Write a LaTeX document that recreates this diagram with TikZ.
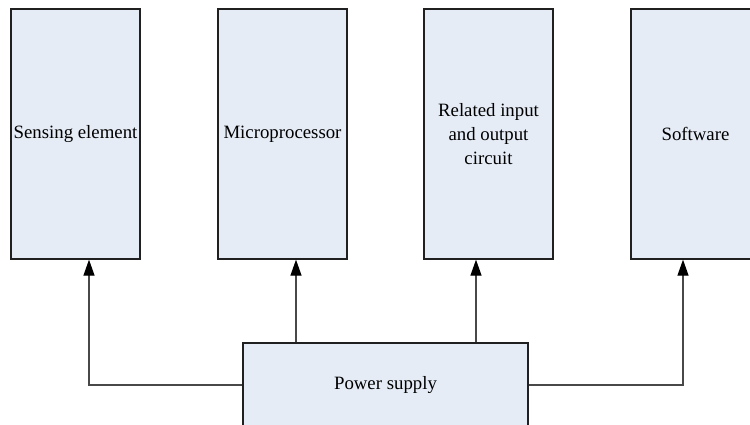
\documentclass[tikz,border=0pt]{standalone}
\usepackage{fontspec}
\setmainfont{Liberation Serif}
\newfontfamily\boxfont{Liberation Serif}
\usetikzlibrary{arrows.meta}
\definecolor{boxfill}{HTML}{E5ECF6}
\definecolor{boxline}{HTML}{202020}
\definecolor{wire}{HTML}{484848}
\tikzset{
  blockbox/.style={draw=boxline, line width=1.3pt, fill=boxfill, minimum width=129pt, minimum height=250pt, inner sep=0pt, align=center, font=\boxfont\fontsize{18.8}{24}\selectfont},
  powerbox/.style={draw=boxline, line width=1.3pt, fill=boxfill, minimum width=285pt, minimum height=84pt, inner sep=0pt, font=\boxfont\fontsize{18.8}{24}\selectfont},
  wirearrow/.style={draw=wire, line width=1.2pt, -{Triangle[length=16pt,width=11pt,color=black,fill=black]}}
}
\begin{document}
\begin{tikzpicture}[x=1pt,y=-1pt]
\useasboundingbox (0,0) rectangle (750,425);
\clip (0,0) rectangle (750,425);
\node[blockbox] (s1) at (75.5,134) {Sensing element};
\node[blockbox] (s2) at (282.5,134) {Microprocessor};
\node[blockbox] (s3) at (488.5,134) {Related input\\and output\\circuit};
\node[blockbox] (s4) at (695.5,134) {Software};
\node[powerbox] (pw) at (385.5,385) {Power supply};
\coordinate (t1) at ([xshift=13.5pt]s1.south);
\coordinate (t2) at ([xshift=13.5pt]s2.south);
\coordinate (t3) at ([xshift=-12.5pt]s3.south);
\coordinate (t4) at ([xshift=-12.5pt]s4.south);
\draw[wirearrow] (pw.west) -| (t1);
\draw[wirearrow] (t2 |- pw.north) -- (t2);
\draw[wirearrow] (t3 |- pw.north) -- (t3);
\draw[wirearrow] (pw.east) -| (t4);
\end{tikzpicture}
\end{document}
